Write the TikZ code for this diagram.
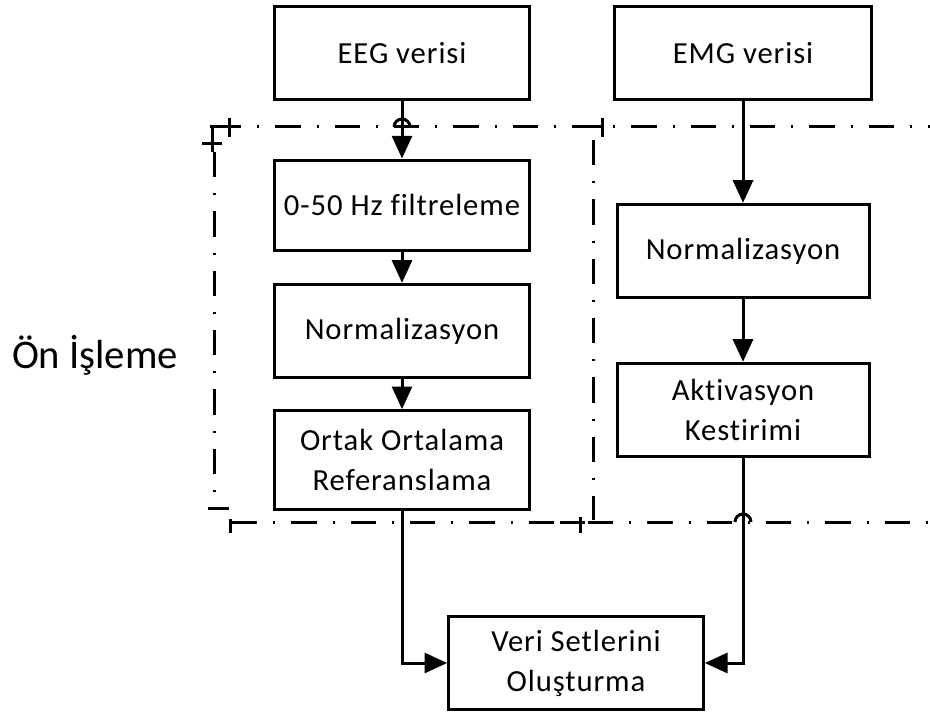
\documentclass[tikz,border=0pt]{standalone}
\usepackage{fontspec}
\setmainfont{Carlito}[Ligatures=NoCommon]
\newfontfamily\boxfont{Carlito}[Ligatures=NoCommon, LetterSpace=3]
\usetikzlibrary{arrows.meta}
\tikzset{
  procbox/.style={draw, line width=2.25pt, minimum width=191pt, minimum height=70pt,
                  align=center, inner sep=0pt, font=\boxfont\fontsize{23}{30}\selectfont},
  flow/.style={line width=2.25pt, -{Triangle[length=17pt, width=15pt]}},
  groupline/.style={line width=2.25pt, dash pattern=on 19pt off 12pt on 1.5pt off 12pt},
  groupmark/.style={line width=2.25pt},
}

\begin{document}
\begin{tikzpicture}[x=0.75pt, y=-0.75pt]
    \useasboundingbox (0,0) rectangle (930,713);
    % pre-processing group
    \draw[groupline] (216,127) -- (930,127);
    \draw[groupline] (232,522) -- (930,522);
    \draw[groupline] (214,152) -- (214,500);
    \draw[groupline] (593,140) -- (593,520);
    \draw[groupmark] (210,127) -- (233,127) (229,118) -- (229,137);
    \draw[groupmark] (202,143) -- (222,143) (212,128) -- (212,152);
    \draw[groupmark] (208,508) -- (229,508) (230,519) -- (230,533);
    \draw[groupmark] (560,522) -- (585,522) (580,517) -- (580,533);
    \draw[groupmark] (585,127) -- (602,127) (602,118) -- (602,137);
    \draw[groupmark] (394,127) arc[start angle=180, end angle=0, radius=6pt];
    \draw[groupmark] (735,522) arc[start angle=180, end angle=0, radius=6pt];
    \node[font=\fontsize{30.5}{36}\selectfont] (pre) at (95,355) {Ön İşleme};
    % EEG branch
    \node[procbox] (eeg) at (402,53) {EEG verisi};
    \node[procbox, minimum height=67.5pt] (filt) at (402,205) {0-50 Hz filtreleme};
    \node[procbox] (normeeg) at (402,331) {Normalizasyon};
    \node[procbox, minimum height=74pt] (car) at (402,460) {Ortak Ortalama\\Referanslama};
    % EMG branch
    \node[procbox, minimum width=193pt] (emg) at (743,53) {EMG verisi};
    \node[procbox, minimum width=189pt] (normemg) at (743,251) {Normalizasyon};
    \node[procbox, minimum width=189pt] (act) at (743,410) {Aktivasyon\\Kestirimi};
    \node[procbox] (dset) at (576,663) {Veri Setlerini\\Oluşturma};
    \draw[flow] (eeg) -- (filt);
    \draw[flow] (filt) -- (normeeg);
    \draw[flow] (normeeg) -- (car);
    \draw[flow] (emg) -- (normemg);
    \draw[flow] (normemg) -- (act);
    \draw[flow] (car.south) |- (dset.west);
    \draw[flow] (act.south) |- (dset.east);
\end{tikzpicture}
\end{document}
